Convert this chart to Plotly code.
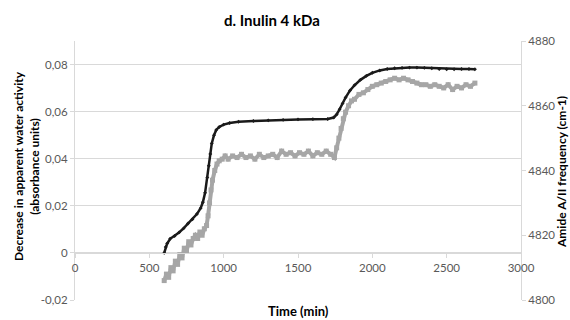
import plotly.graph_objects as go

# Black series (left axis): time (min), decrease in apparent water activity
black_t = [600, 610, 620, 640, 670, 700, 730, 760, 790, 820, 845, 860, 875, 890, 900, 910,
           920, 935, 950, 970, 1000, 1040, 1100, 1200, 1300, 1400, 1500, 1600, 1700, 1740,
           1760, 1780, 1800, 1820, 1850, 1880, 1920, 1960, 2000, 2050, 2100, 2150, 2200,
           2250, 2300, 2350, 2400, 2450, 2500, 2550, 2600, 2650, 2690]
black_v = [0.000, 0.0025, 0.0040, 0.0060, 0.0072, 0.0087, 0.0104, 0.0125, 0.0143, 0.0165,
           0.0190, 0.0215, 0.0255, 0.0320, 0.0370, 0.0420, 0.0465, 0.0500, 0.0522, 0.0535,
           0.0545, 0.0552, 0.0557, 0.0560, 0.0563, 0.0565, 0.0567, 0.0568, 0.0569, 0.0575,
           0.0588, 0.0610, 0.0635, 0.0660, 0.0690, 0.0712, 0.0735, 0.0752, 0.0765, 0.0775,
           0.0781, 0.0784, 0.0786, 0.0787, 0.0787, 0.0786, 0.0784, 0.0781, 0.0780, 0.0780,
           0.0781, 0.0781, 0.0780]

# Gray series (right axis): time (min), Amide A/II frequency
gray_t = [600, 615, 630, 645, 660, 675, 690, 705, 720, 735, 750, 765, 780, 795, 810, 825,
          840, 855, 870, 885, 895, 905, 915, 925, 940, 955, 970, 990, 1010, 1030, 1060,
          1090, 1120, 1150, 1180, 1210, 1240, 1270, 1300, 1330, 1360, 1390, 1420, 1450,
          1480, 1510, 1540, 1570, 1600, 1630, 1660, 1690, 1720, 1745, 1760, 1775, 1790,
          1805, 1820, 1840, 1860, 1880, 1910, 1940, 1970, 2000, 2030, 2060, 2090, 2120,
          2150, 2180, 2210, 2240, 2270, 2300, 2330, 2360, 2390, 2420, 2450, 2480, 2510,
          2540, 2570, 2600, 2630, 2660, 2690]
gray_v = [4806, 4808, 4807, 4810, 4809, 4812, 4811, 4814, 4813, 4816, 4815, 4818, 4817,
          4819, 4820, 4819, 4821, 4820, 4822, 4823, 4826, 4830, 4834, 4837, 4840, 4842,
          4843, 4843.5, 4844.5, 4843.5, 4844.5, 4844, 4845, 4844, 4844.5, 4843.5, 4845,
          4844, 4844.5, 4845, 4844, 4846, 4845, 4845.5, 4844.5, 4845.5, 4845, 4846,
          4844.5, 4845.5, 4845, 4846, 4845, 4844, 4847, 4850, 4853, 4856, 4858, 4860,
          4861.5, 4862, 4863.5, 4864, 4865, 4866, 4866.5, 4867, 4867.5, 4868, 4868.5,
          4868, 4868.5, 4868, 4867.5, 4867, 4866.5, 4866.5, 4866, 4866.5, 4866, 4865.5,
          4866.5, 4865, 4866, 4865.5, 4866.5, 4866, 4867]

x_ticks = [0, 500, 1000, 1500, 2000, 2500, 3000]
y_ticks = [-0.02, 0, 0.02, 0.04, 0.06, 0.08]
y_tick_text = ["-0,02", "0", "0,02", "0,04", "0,06", "0,08"]
y2_ticks = [4800, 4820, 4840, 4860, 4880]

FONT = "Lato, 'Liberation Sans', sans-serif"
GRID = "#d9d9d9"
TICKC = "#595959"
TICKFONT = dict(size=11.5, color=TICKC)

fig = go.Figure()
fig.add_trace(go.Scatter(
    x=gray_t, y=gray_v, yaxis="y2", mode="lines+markers",
    line=dict(color="#a6a6a6", width=4),
    marker=dict(symbol="square", size=5, color="#a6a6a6"),
    showlegend=False))
fig.add_trace(go.Scatter(
    x=black_t, y=black_v, mode="lines+markers",
    line=dict(color="#1a1a1a", width=2.5),
    marker=dict(symbol="diamond", size=3, color="#1a1a1a"),
    showlegend=False))

fig.update_layout(
    width=570, height=320,
    margin=dict(l=75, r=49, t=41, b=20),
    paper_bgcolor="white", plot_bgcolor="white",
    font=dict(family=FONT, size=11, color=TICKC),
    xaxis=dict(range=[0, 3000], tickvals=x_ticks, showgrid=False, zeroline=False,
               anchor="free", position=(0 - (-0.02)) / (0.09 - (-0.02)),
               showline=True, linecolor=GRID, linewidth=1,
               ticks="outside", ticklen=4, tickcolor=GRID, tickfont=TICKFONT),
    yaxis=dict(range=[-0.02, 0.09], tickvals=y_ticks, ticktext=y_tick_text,
               showgrid=True, gridcolor=GRID, gridwidth=1, zeroline=False,
               showline=True, linecolor=GRID, ticks="outside", ticklen=4,
               tickcolor=GRID, tickfont=TICKFONT),
    yaxis2=dict(range=[4800, 4880], tickvals=y2_ticks, overlaying="y", side="right",
                showgrid=False, zeroline=False, showline=True, linecolor=GRID,
                ticks="outside", ticklen=4, tickcolor=GRID, tickfont=TICKFONT),
    annotations=[
        dict(text="<b>d. Inulin 4 kDa</b>", xref="paper", yref="paper",
             x=(272 - 75) / 446, y=1 + (41 - 20) / 259, xanchor="center", yanchor="middle",
             showarrow=False, font=dict(family=FONT, size=15, color="#000000")),
        dict(text="<b>Decrease in apparent water activity<br>(absorbance units)</b>",
             xref="paper", yref="paper", x=(26 - 75) / 446, y=(300 - 166) / 259,
             xanchor="center", yanchor="middle", textangle=-90, showarrow=False,
             font=dict(family=FONT, size=12, color="#000000")),
        dict(text="<b>Amide A/II frequency (cm-1)</b>",
             xref="paper", yref="paper", x=(561 - 75) / 446, y=(300 - 172) / 259,
             xanchor="center", yanchor="middle", textangle=-90, showarrow=False,
             font=dict(family=FONT, size=12, color="#000000")),
        dict(text="<b>Time (min)</b>", xref="paper", yref="paper",
             x=0.5, y=(300 - 311) / 259, xanchor="center", yanchor="middle",
             showarrow=False, font=dict(family=FONT, size=13, color="#000000")),
    ],
)

fig.write_html("out.html")
